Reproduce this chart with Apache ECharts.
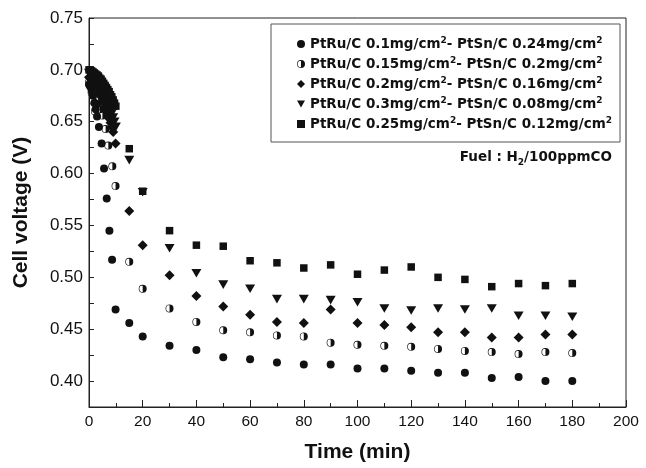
<!DOCTYPE html>
<html>
<head>
<meta charset="utf-8">
<script src="https://cdn.jsdelivr.net/npm/echarts@6/dist/echarts.min.js"></script>
<style>html,body{margin:0;padding:0;background:#fff}#c{width:646px;height:468px}</style>
</head>
<body>
<div id="c"></div>
<script>
// ---- data ----
const seriesNames = [
  'PtRu/C 0.1mg/cm2- PtSn/C 0.24mg/cm2',
  'PtRu/C 0.15mg/cm2- PtSn/C 0.2mg/cm2',
  'PtRu/C 0.2mg/cm2- PtSn/C 0.16mg/cm2',
  'PtRu/C 0.3mg/cm2- PtSn/C 0.08mg/cm2',
  'PtRu/C 0.25mg/cm2- PtSn/C 0.12mg/cm2'
];
const lateTimes = [15, 20, 30, 40, 50, 60, 70, 80, 90, 100, 110, 120, 130, 140, 150, 160, 170, 180];

const circleTime = [0, 0.5, 1, 1.5, 2, 2.5, 3, 3.7, 4.7, 5.6, 6.6, 7.6, 8.6, 9.9].concat(lateTimes);
const circleV = [0.686, 0.684, 0.680, 0.675, 0.668, 0.662, 0.655, 0.645, 0.629, 0.605, 0.576, 0.545, 0.517, 0.469,
  0.456, 0.443, 0.434, 0.430, 0.423, 0.421, 0.418, 0.416, 0.416, 0.412, 0.412, 0.410, 0.408, 0.408, 0.403, 0.404, 0.400, 0.400];

const halfTime = [0, 0.5, 1, 1.5, 2.2, 3, 4, 5, 6.2, 7.2, 8.7, 9.9].concat(lateTimes);
const halfV = [0.688, 0.684, 0.678, 0.670, 0.660, 0.667, 0.662, 0.656, 0.643, 0.627, 0.607, 0.588,
  0.515, 0.489, 0.470, 0.457, 0.449, 0.447, 0.444, 0.443, 0.437, 0.435, 0.434, 0.433, 0.431, 0.429, 0.428, 0.426, 0.428, 0.427];

const diamondTime = [0, 0.5, 1, 1.5, 2, 2.5, 3, 3.5, 4, 4.5, 5, 5.5, 6, 6.5, 7, 7.5, 8, 8.5, 9, 9.9].concat(lateTimes);
const diamondV = [0.693, 0.692, 0.690, 0.688, 0.686, 0.684, 0.682, 0.680, 0.677, 0.674, 0.671, 0.668, 0.664, 0.661, 0.657, 0.653, 0.649, 0.645, 0.640, 0.629,
  0.564, 0.531, 0.502, 0.482, 0.472, 0.464, 0.457, 0.456, 0.469, 0.456, 0.454, 0.452, 0.447, 0.447, 0.442, 0.442, 0.445, 0.445];

const triangleTime = [0, 0.5, 1, 1.5, 2, 2.5, 3, 3.5, 4, 4.5, 5, 5.5, 6, 6.5, 7, 7.5, 8, 8.5, 9, 9.5, 10].concat(lateTimes);
const triangleV = [0.697, 0.696, 0.695, 0.694, 0.692, 0.691, 0.689, 0.687, 0.685, 0.683, 0.680, 0.678, 0.675, 0.672, 0.669, 0.666, 0.662, 0.658, 0.654, 0.650, 0.645,
  0.613, 0.582, 0.528, 0.504, 0.493, 0.489, 0.479, 0.479, 0.478, 0.476, 0.470, 0.468, 0.470, 0.469, 0.470, 0.463, 0.463, 0.462];

const squareTime = [0, 0.5, 1, 1.5, 2, 2.5, 3, 3.5, 4, 4.5, 5, 5.5, 6, 6.5, 7, 7.5, 8, 8.5, 9, 9.5, 10].concat(lateTimes);
const squareV = [0.700, 0.700, 0.699, 0.698, 0.697, 0.696, 0.695, 0.694, 0.692, 0.691, 0.689, 0.687, 0.685, 0.683, 0.681, 0.679, 0.676, 0.674, 0.671, 0.668, 0.665,
  0.624, 0.583, 0.545, 0.531, 0.530, 0.516, 0.514, 0.509, 0.512, 0.503, 0.507, 0.510, 0.500, 0.498, 0.491, 0.494, 0.492, 0.494];

const xTickValues = [0, 20, 40, 60, 80, 100, 120, 140, 160, 180, 200];
const yTickLabels = ['0.40', '0.45', '0.50', '0.55', '0.60', '0.65', '0.70', '0.75'];
const fuelText = 'Fuel : H{sub|2}/100ppmCO';

// ---- chart ----
const INK = '#111';
const halfCircle = 'path://M10,0 A10,10 0 1,1 10,20 A10,10 0 1,1 10,0 Z ' +
  'M10,1.6 A8.4,8.4 0 1,0 10,18.4 A8.4,8.4 0 1,0 10,1.6 Z ' +
  'M10,0 A10,10 0 0,1 10,20 Z';
const downTri = 'path://M0,0 L10,0 L5,8.6 Z';

function pairs(t, v) { return t.map((x, i) => [x, v[i]]); }

const symbols = [
  { symbol: 'circle', size: 8 },
  { symbol: halfCircle, size: 8 },
  { symbol: 'diamond', size: [10, 10] },
  { symbol: downTri, size: [10, 8.6] },
  { symbol: 'rect', size: 7.5 }
];
const dataSets = [
  pairs(circleTime, circleV),
  pairs(halfTime, halfV),
  pairs(diamondTime, diamondV),
  pairs(triangleTime, triangleV),
  pairs(squareTime, squareV)
];

const chart = echarts.init(document.getElementById('c'), null, { renderer: 'canvas' });
chart.setOption({
  backgroundColor: '#fff',
  animation: false,
  grid: { left: 89, right: 20, top: 18, bottom: 54, show: true, borderColor: '#222', borderWidth: 1, backgroundColor: 'transparent' },
  xAxis: {
    type: 'value', min: 0, max: 200, interval: 20,
    name: 'Time (min)', nameLocation: 'middle', nameGap: 35,
    nameTextStyle: { fontFamily: 'Liberation Sans, Arial', fontWeight: 'bold', fontSize: 21, color: INK },
    axisLine: { show: true, lineStyle: { color: '#222', width: 1 } },
    axisTick: { show: true, inside: true, length: 7, lineStyle: { color: '#222' } },
    minorTick: { show: true, splitNumber: 2, length: 4, lineStyle: { color: '#222' } },
    splitLine: { show: false },
    axisLabel: {
      fontFamily: 'Liberation Sans, Arial', fontSize: 15.5, color: INK, margin: 7,
      formatter: v => xTickValues.indexOf(v) >= 0 ? String(v) : ''
    }
  },
  yAxis: {
    type: 'value', min: 0.375, max: 0.75, interval: 0.025,
    name: 'Cell voltage (V)', nameLocation: 'middle', nameGap: 57,
    nameTextStyle: { fontFamily: 'Liberation Sans, Arial', fontWeight: 'bold', fontSize: 21, color: INK },
    axisLine: { show: true, lineStyle: { color: '#222', width: 1 } },
    axisTick: { show: true, inside: true, length: 5, lineStyle: { color: '#222' } },
    splitLine: { show: false },
    axisLabel: {
      fontFamily: 'Liberation Sans, Arial', fontSize: 17, color: INK, margin: 6,
      showMinLabel: true, showMaxLabel: true,
      formatter: v => { const s = v.toFixed(2); return (yTickLabels.indexOf(s) >= 0 && Math.abs(v - parseFloat(s)) < 1e-6) ? s : ''; }
    }
  },
  legend: {
    orient: 'vertical', left: 271, top: 24,
    padding: [12, 8, 10, 26], itemGap: 4, itemWidth: 8, itemHeight: 8,
    borderColor: '#555', borderWidth: 1,
    data: seriesNames,
    formatter: name => name.replace(/cm2/g, 'cm{sup|2}'),
    textStyle: {
      fontFamily: 'DejaVu Sans', fontWeight: 'bold', fontSize: 13.5, lineHeight: 16, color: INK,
      rich: { sup: { fontFamily: 'DejaVu Sans', fontWeight: 'bold', fontSize: 9, lineHeight: 16, verticalAlign: 'top', color: INK } }
    }
  },
  graphic: [{
    type: 'text', right: 34, top: 150,
    style: {
      text: fuelText, fill: INK,
      font: 'bold 13.5px "DejaVu Sans"',
      rich: { sub: { fontFamily: 'DejaVu Sans', fontWeight: 'bold', fontSize: 9, verticalAlign: 'bottom', lineHeight: 20, padding: [6, 0, 0, 0], fill: INK } }
    }
  }],
  series: seriesNames.map((n, i) => ({
    name: n, type: 'scatter',
    symbol: symbols[i].symbol, symbolSize: symbols[i].size,
    itemStyle: { color: INK, opacity: 1 },
    emphasis: { disabled: true },
    data: dataSets[i]
  }))
});
</script>
</body>
</html>
